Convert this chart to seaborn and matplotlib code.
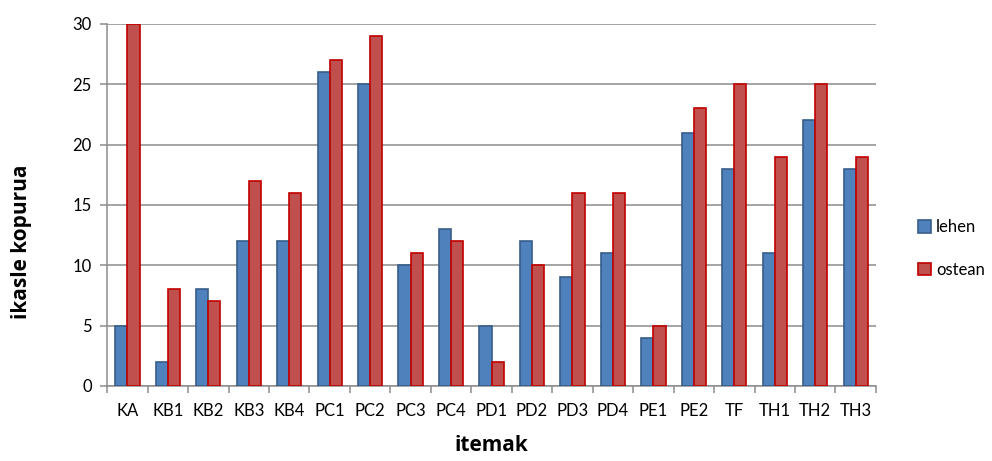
import matplotlib
matplotlib.use("Agg")
import matplotlib.pyplot as plt
import seaborn as sns
import pandas as pd
import numpy as np

items = ["KA", "KB1", "KB2", "KB3", "KB4", "PC1", "PC2", "PC3", "PC4", "PD1",
         "PD2", "PD3", "PD4", "PE1", "PE2", "TF", "TH1", "TH2", "TH3"]
lehen = [5, 2, 8, 12, 12, 26, 25, 10, 13, 5, 12, 9, 11, 4, 21, 18, 11, 22, 18]
ostean = [30, 8, 7, 17, 16, 27, 29, 11, 12, 2, 10, 16, 16, 5, 23, 25, 19, 25, 19]

df = pd.DataFrame({
    "item": items * 2,
    "value": lehen + ostean,
    "group": ["lehen"] * len(items) + ["ostean"] * len(items),
})

sns.set_theme(style="white")
plt.rcParams["font.family"] = ["Lato", "DejaVu Sans"]
plt.rcParams["text.color"] = "black"
plt.rcParams["axes.labelcolor"] = "black"
plt.rcParams["xtick.labelcolor"] = "black"
plt.rcParams["ytick.labelcolor"] = "black"

fig = plt.figure(figsize=(9.92, 4.61), dpi=100)
ax = fig.add_axes([0.108, 0.163, 0.775, 0.785])

fills = {"lehen": "#4F81BD", "ostean": "#C0504D"}
edges = {"lehen": "#385D8A", "ostean": "#C00000"}

sns.barplot(data=df, x="item", y="value", hue="group", order=items,
            palette=fills, saturation=1, width=0.6, gap=0, ax=ax, zorder=3)

for container, grp in zip(ax.containers, ["lehen", "ostean"]):
    for patch in container:
        patch.set_edgecolor(edges[grp])
        patch.set_linewidth(1.2)

ax.set_ylim(0, 30)
ax.set_xlim(-0.5, len(items) - 0.5)
ax.set_yticks(range(0, 31, 5))
ax.yaxis.grid(True, color="#8c8c8c", linewidth=1.1, zorder=0)
ax.xaxis.grid(False)

for side in ["top", "right"]:
    ax.spines[side].set_visible(False)
for side in ["left", "bottom"]:
    ax.spines[side].set_color("#8c8c8c")
    ax.spines[side].set_linewidth(1.1)

ax.set_xticks(np.arange(-0.5, len(items), 1.0), minor=True)
ax.tick_params(axis="x", which="major", length=0, labelsize=12, labelcolor="black", pad=12)
ax.tick_params(axis="x", which="minor", length=5, width=1.1, color="#8c8c8c", bottom=True)
ax.tick_params(axis="y", which="major", length=5, width=1.1, color="#8c8c8c",
               labelsize=12, labelcolor="black", left=True, pad=6)

label_font = dict(fontsize=15, fontweight="bold", color="black",
                  family=["Open Sans", "DejaVu Sans"])
ax.set_xlabel("itemak", **label_font)
ax.set_ylabel("ikasle kopurua", **label_font)
ax.xaxis.set_label_coords(0.5, -0.136)
ax.yaxis.set_label_coords(-0.0975, 0.398)

handles, labels = ax.get_legend_handles_labels()
for h, grp in zip(handles, ["lehen", "ostean"]):
    h.set_edgecolor(edges[grp])
    h.set_linewidth(1.2)
leg = ax.legend(handles, labels, loc="center left", bbox_to_anchor=(1.035, 0.38),
                frameon=False, fontsize=12, handlelength=0.8, handleheight=0.8,
                handletextpad=0.3, labelspacing=1.6)
for t in leg.get_texts():
    t.set_color("black")

fig.savefig("out.png", dpi=100)
